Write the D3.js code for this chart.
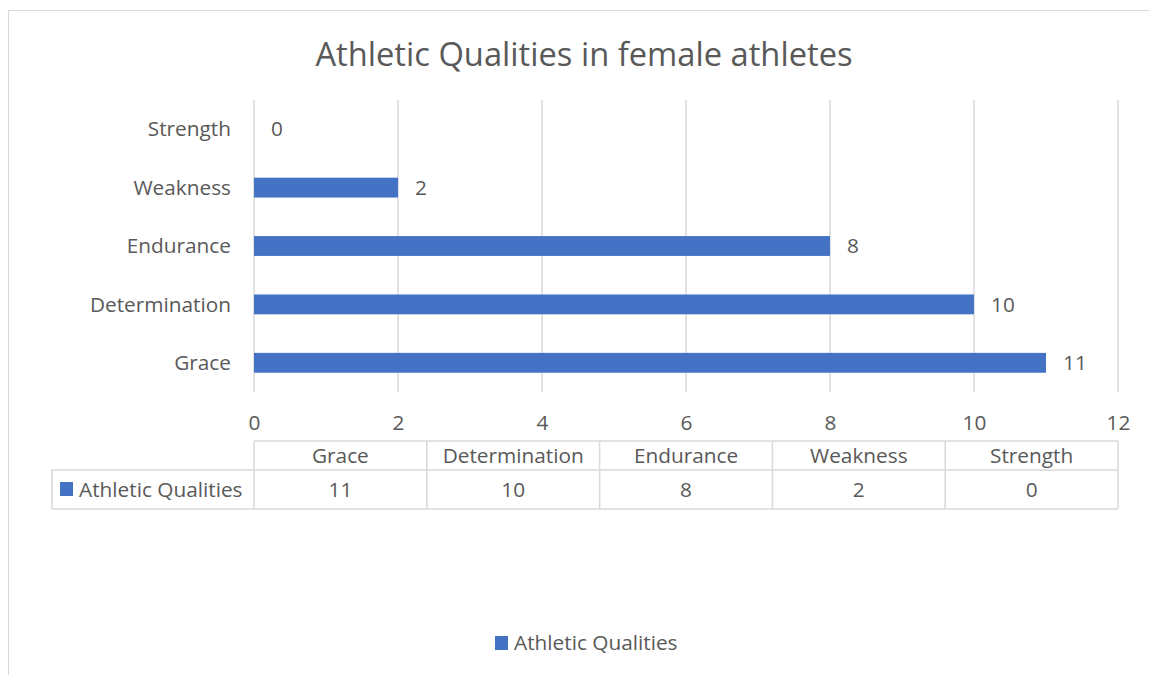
<!DOCTYPE html>
<html>
<head>
<meta charset="utf-8">
<script src="https://cdn.jsdelivr.net/npm/d3@7"></script>
<style>
  body { margin: 0; background: #fff; }
  text { font-family: "Open Sans", sans-serif; fill: #595959; }
</style>
</head>
<body>
<div id="chart"></div>
<script>
const categories = ["Grace", "Determination", "Endurance", "Weakness", "Strength"];
const values = [11, 10, 8, 2, 0];
const seriesName = "Athletic Qualities";
const xTicks = [0, 2, 4, 6, 8, 10, 12];
const title = "Athletic Qualities in female athletes";

const W = 1149, H = 675;
const fs = "20.8px";
const svg = d3.select("#chart").append("svg")
    .attr("width", W)
    .attr("height", H);

// chart border
svg.append("rect")
    .attr("x", 8.5).attr("y", 10.5)
    .attr("width", W + 10).attr("height", H + 10)
    .attr("fill", "none").attr("stroke", "#d9d9d9");

svg.append("text")
    .attr("x", 584).attr("y", 66)
    .attr("text-anchor", "middle")
    .style("font-size", "32.7px")
    .text(title);

let plot = {left: 254, right: 1118, top: 100, bottom: 392};

let x = d3.scaleLinear().domain([0, 12]).range([plot.left, plot.right]);
// Grace at bottom, Strength at top
let y = d3.scaleBand().domain(categories.slice().reverse())
    .range([plot.top, plot.bottom]).paddingInner(0.66).paddingOuter(0.33);

let grid = svg.append("g");
grid.selectAll("line")
    .data(xTicks)
    .enter().append("line")
    .attr("x1", d => x(d)).attr("x2", d => x(d))
    .attr("y1", plot.top).attr("y2", plot.bottom)
    .attr("stroke", "#d9d9d9").attr("stroke-width", 1.5);

let xAxis = svg.append("g")
    .attr("transform", "translate(0," + 430 + ")")
    .call(d3.axisBottom(x).tickValues(xTicks).tickSize(0).tickPadding(0));
xAxis.select(".domain").remove();
xAxis.selectAll("text")
    .attr("dy", 0)
    .style("font-size", fs)
    .style("fill", "#595959")
    .style("font-family", "'Open Sans', sans-serif");

let yAxis = svg.append("g")
    .attr("transform", "translate(" + 231 + ",0)")
    .call(d3.axisLeft(y).tickSize(0).tickPadding(0));
yAxis.select(".domain").remove();
yAxis.selectAll("text")
    .attr("dy", "0.35em")
    .style("font-size", fs)
    .style("fill", "#595959")
    .style("font-family", "'Open Sans', sans-serif");

svg.selectAll(".bar")
    .data(categories)
    .enter().append("rect")
    .attr("class", "bar")
    .attr("x", x(0))
    .attr("y", (d, i) => y(d))
    .attr("width", (d, i) => x(values[i]) - x(0))
    .attr("height", y.bandwidth())
    .attr("fill", "#4472c4");

svg.selectAll(".val")
    .data(categories)
    .enter().append("text")
    .attr("class", "val")
    .attr("x", (d, i) => x(values[i]) + 17)
    .attr("y", (d, i) => y(d) + y.bandwidth() / 2)
    .attr("dy", "0.35em")
    .style("font-size", fs)
    .text((d, i) => values[i]);

// data table
let colW = (plot.right - plot.left) / categories.length;
let tTop = 441, tMid = 470, tBot = 509, tLeft = 52;
let tbl = svg.append("g").attr("stroke", "#d9d9d9").attr("stroke-width", 1.5).attr("fill", "none");
tbl.append("line").attr("x1", plot.left).attr("x2", plot.right).attr("y1", tTop).attr("y2", tTop);
tbl.append("line").attr("x1", tLeft).attr("x2", plot.right).attr("y1", tMid).attr("y2", tMid);
tbl.append("line").attr("x1", tLeft).attr("x2", plot.right).attr("y1", tBot).attr("y2", tBot);
tbl.append("line").attr("x1", tLeft).attr("x2", tLeft).attr("y1", tMid).attr("y2", tBot);
tbl.selectAll(".vl")
    .data(d3.range(categories.length + 1))
    .enter().append("line")
    .attr("x1", i => plot.left + i * colW).attr("x2", i => plot.left + i * colW)
    .attr("y1", tTop).attr("y2", tBot);

svg.selectAll(".hdr")
    .data(categories)
    .enter().append("text")
    .attr("x", (d, i) => plot.left + (i + 0.5) * colW)
    .attr("y", (tTop + tMid) / 2)
    .attr("dy", "0.35em")
    .attr("text-anchor", "middle")
    .style("font-size", fs)
    .text(d => d);

svg.selectAll(".cell")
    .data(values)
    .enter().append("text")
    .attr("x", (d, i) => plot.left + (i + 0.5) * colW)
    .attr("y", (tMid + tBot) / 2)
    .attr("dy", "0.35em")
    .attr("text-anchor", "middle")
    .style("font-size", fs)
    .text(d => d);

svg.append("rect")
    .attr("x", 60).attr("y", 482).attr("width", 13).attr("height", 14)
    .attr("fill", "#4472c4");
svg.append("text")
    .attr("x", 79).attr("y", (tMid + tBot) / 2)
    .attr("dy", "0.35em")
    .style("font-size", fs)
    .text(seriesName);

// legend
svg.append("rect")
    .attr("x", 495).attr("y", 636).attr("width", 13).attr("height", 14)
    .attr("fill", "#4472c4");
svg.append("text")
    .attr("x", 514).attr("y", 643)
    .attr("dy", "0.35em")
    .style("font-size", fs)
    .text(seriesName);
</script>
</body>
</html>
